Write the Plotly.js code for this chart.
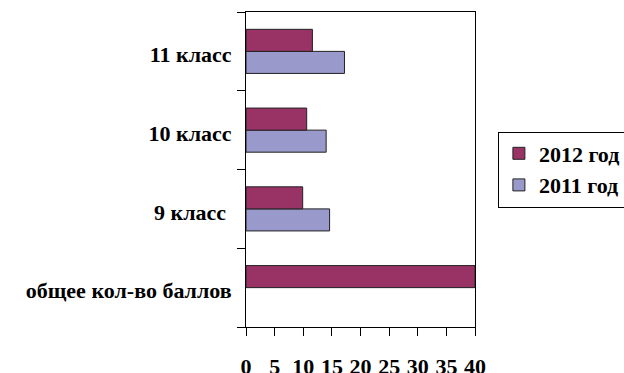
<!DOCTYPE html>
<html>
<head>
<meta charset="utf-8">
<script src="https://cdn.plot.ly/plotly-3.0.1.min.js"></script>
<style>
  html, body { margin: 0; padding: 0; background: #fff; }
  #chart { width: 624px; height: 373px; }
  /* all chart text in solid black bold serif */
  #chart text {
    fill: #000 !important;
    font-family: "Liberation Serif", serif !important;
    font-weight: 700 !important;
  }
</style>
</head>
<body>
<div id="chart"></div>
<script>
// Categories, listed bottom to top
const categories = ["общее кол-во баллов", "9 класс ", "10 класс", "11 класс"];
const scores2012 = [40, 9.9, 10.6, 11.6];
const scores2011 = [null, 14.6, 14.0, 17.2];
const xTicks = [0, 5, 10, 15, 20, 25, 30, 35, 40];

const traces = [
  {
    type: "bar", orientation: "h", name: "2011 год",
    y: categories, x: scores2011,
    marker: { color: "#9999cc", line: { color: "#222", width: 1 } }
  },
  {
    type: "bar", orientation: "h", name: "2012 год",
    y: categories, x: scores2012,
    marker: { color: "#993366", line: { color: "#222", width: 1 } }
  }
];

const layout = {
  width: 624, height: 373,
  margin: { l: 246, r: 149, t: 12, b: 46, pad: 0, autoexpand: false },
  barmode: "group", bargap: 0.44, bargroupgap: 0,
  showlegend: true,
  legend: {
    traceorder: "reversed",
    x: 1.1, xanchor: "left", y: 0.5, yanchor: "middle",
    bordercolor: "#000", borderwidth: 1,
    font: { family: "Liberation Serif", size: 22, weight: "bold" }
  },
  xaxis: {
    range: [0, 40], tickvals: xTicks, ticktext: xTicks.map(String),
    showgrid: false, zeroline: false,
    showline: true, linecolor: "#000", linewidth: 1, mirror: true,
    ticks: "outside", ticklen: 8, tickcolor: "#000", tickwidth: 1,
    ticklabelstandoff: 12,
    tickfont: { family: "Liberation Serif", size: 22, weight: "bold" }
  },
  yaxis: {
    type: "category", categoryorder: "array", categoryarray: categories,
    showgrid: false, zeroline: false,
    showline: true, linecolor: "#000", linewidth: 1, mirror: true,
    ticks: "outside", ticklen: 8, tickcolor: "#000", tickwidth: 1,
    tickson: "boundaries",
    ticklabelstandoff: 9, ticklabelshift: 3,
    tickfont: { family: "Liberation Serif", size: 22, weight: "bold" }
  }
};

Plotly.newPlot("chart", traces, layout, { staticPlot: true });
</script>
</body>
</html>
